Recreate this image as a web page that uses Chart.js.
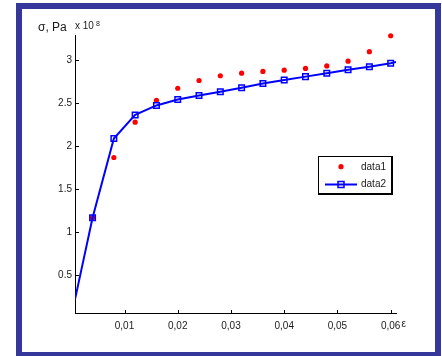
<!DOCTYPE html>
<html>
<head>
<meta charset="utf-8">
<script src="https://cdn.jsdelivr.net/npm/chart.js@4/dist/chart.umd.min.js"></script>
<style>
  body { margin: 0; background: #fff; }
  #wrap { position: relative; width: 442px; height: 356px; overflow: hidden; }
  #frame { position: absolute; left: 16px; top: 3px; width: 425px; height: 355px;
           border: 6px solid #35379a; box-sizing: border-box; pointer-events: none; }
  canvas { position: absolute; left: 0; top: 0; }
</style>
</head>
<body>
<div id="wrap">
  <canvas id="myChart" width="442" height="356"></canvas>
  <div id="frame"></div>
</div>
<script>
// strain values and stress (x 10^8 Pa)
var strain = [0.004, 0.008, 0.012, 0.016, 0.020, 0.024, 0.028, 0.032, 0.036, 0.040, 0.044, 0.048, 0.052, 0.056, 0.060];
var data1 = [1.17, 1.87, 2.28, 2.535, 2.675, 2.765, 2.82, 2.85, 2.87, 2.885, 2.905, 2.935, 2.99, 3.10, 3.285];
var data2 = [1.17, 2.09, 2.365, 2.475, 2.545, 2.59, 2.635, 2.68, 2.73, 2.77, 2.81, 2.85, 2.89, 2.925, 2.965];
// where the data2 line enters and leaves the axes (no markers there)
var data2Start = [0.0007, 0.22];
var data2End = [0.061, 2.98];

var xTicks = [0.01, 0.02, 0.03, 0.04, 0.05, 0.06];
var yTicks = [0.5, 1, 1.5, 2, 2.5, 3];

var FONT = "'Liberation Sans', Arial, sans-serif";

var pts1 = strain.map(function (x, i) { return { x: x, y: data1[i] }; });
var pts2 = [{ x: data2Start[0], y: data2Start[1] }]
  .concat(strain.map(function (x, i) { return { x: x, y: data2[i] }; }))
  .concat([{ x: data2End[0], y: data2End[1] }]);
var radius2 = pts2.map(function (p, i) { return (i == 0 || i == pts2.length - 1) ? 0 : 3.9; });

// inward ticks, axis labels and the boxed legend
var extras = {
  id: 'extras',
  afterDraw: function (chart) {
    var c = chart.ctx, a = chart.chartArea;
    var xs = chart.scales.x, ys = chart.scales.y;
    c.save();
    c.strokeStyle = '#000';
    c.lineWidth = 1;
    c.beginPath();
    yTicks.forEach(function (v) {
      var py = Math.round(ys.getPixelForValue(v)) + 0.5;
      c.moveTo(a.left, py); c.lineTo(a.left + 4, py);
    });
    xTicks.forEach(function (v) {
      var px = Math.round(xs.getPixelForValue(v)) + 0.5;
      c.moveTo(px, a.bottom); c.lineTo(px, a.bottom - 3);
    });
    c.stroke();

    c.fillStyle = '#1a1a1a';
    c.textBaseline = 'alphabetic';
    c.textAlign = 'left';
    c.font = '12px ' + FONT;
    c.fillText('σ, Pa', 38, 31);
    c.font = '10px ' + FONT;
    c.fillText('x 10', 75, 28.5);
    c.font = '7px ' + FONT;
    c.fillText('8', 96, 25.5);
    c.font = '10px ' + FONT;
    c.fillText('ε', 401.5, 327);

    // legend
    var lx = 318, ly = 156, lw = 73, lh = 37;
    c.fillStyle = '#fff';
    c.fillRect(lx, ly, lw + 2, lh + 2);
    c.strokeStyle = '#000';
    c.strokeRect(lx + 0.5, ly + 0.5, lw, lh);
    c.fillStyle = '#000';
    c.fillRect(lx + lw, ly, 2, lh + 2);
    c.fillRect(lx, ly + lh, lw + 2, 2);

    c.fillStyle = '#ff0000';
    c.beginPath(); c.arc(341, 166.7, 2.6, 0, Math.PI * 2); c.fill();
    c.strokeStyle = '#0000ff';
    c.lineWidth = 2;
    c.beginPath(); c.moveTo(325, 184.5); c.lineTo(357, 184.5); c.stroke();
    c.lineWidth = 1.5;
    c.strokeRect(338, 181.5, 6, 6);

    c.fillStyle = '#1a1a1a';
    c.font = '10px ' + FONT;
    c.textBaseline = 'middle';
    c.fillText('data1', 361, 167);
    c.fillText('data2', 361, 184.5);
    c.restore();
  }
};

var ctx = document.getElementById('myChart').getContext('2d');
var myChart = new Chart(ctx,
{
    type: 'scatter',
    data:
    {
        datasets:
        [
            {
                label: 'data1',
                data: pts1,
                showLine: false,
                clip: false,
                pointStyle: 'circle',
                pointRadius: 2.6,
                pointBorderWidth: 0,
                backgroundColor: '#ff0000',
                borderColor: '#ff0000',
                order: 1
            },
            {
                label: 'data2',
                data: pts2,
                showLine: true,
                borderColor: '#0000ff',
                borderWidth: 2,
                pointStyle: 'rect',
                pointRadius: radius2,
                pointBorderWidth: 1.5,
                pointBackgroundColor: 'rgba(0,0,0,0)',
                pointBorderColor: '#0000ff',
                order: 0
            }
        ]
    },
    options:
    {
        responsive: false,
        animation: false,
        events: [],
        layout: { padding: { left: 0, top: 35, right: 46, bottom: 0 } },
        plugins:
        {
            legend: { display: false },
            title: { display: false },
            tooltip: { enabled: false }
        },
        scales:
        {
            x:
            {
                type: 'linear',
                min: 0.0007,
                max: 0.061,
                afterBuildTicks: function (s) { s.ticks = xTicks.map(function (v) { return { value: v }; }); },
                afterFit: function (s) { s.height = 43; },
                grid: { drawOnChartArea: false, drawTicks: false },
                border: { display: true, color: '#000', width: 1 },
                ticks:
                {
                    padding: 7,
                    color: '#1a1a1a',
                    font: { family: FONT, size: 10 },
                    maxRotation: 0,
                    callback: function (v) { return v.toFixed(2).replace('.', ','); }
                }
            },
            y:
            {
                type: 'linear',
                min: 0.062,
                max: 3.294,
                afterBuildTicks: function (s) { s.ticks = yTicks.map(function (v) { return { value: v }; }); },
                afterFit: function (s) { s.width = 75; },
                grid: { drawOnChartArea: false, drawTicks: false },
                border: { display: true, color: '#000', width: 1 },
                ticks:
                {
                    padding: 3,
                    color: '#1a1a1a',
                    font: { family: FONT, size: 10 },
                    callback: function (v) { return String(v); }
                }
            }
        }
    },
    plugins: [extras]
});
</script>
</body>
</html>
